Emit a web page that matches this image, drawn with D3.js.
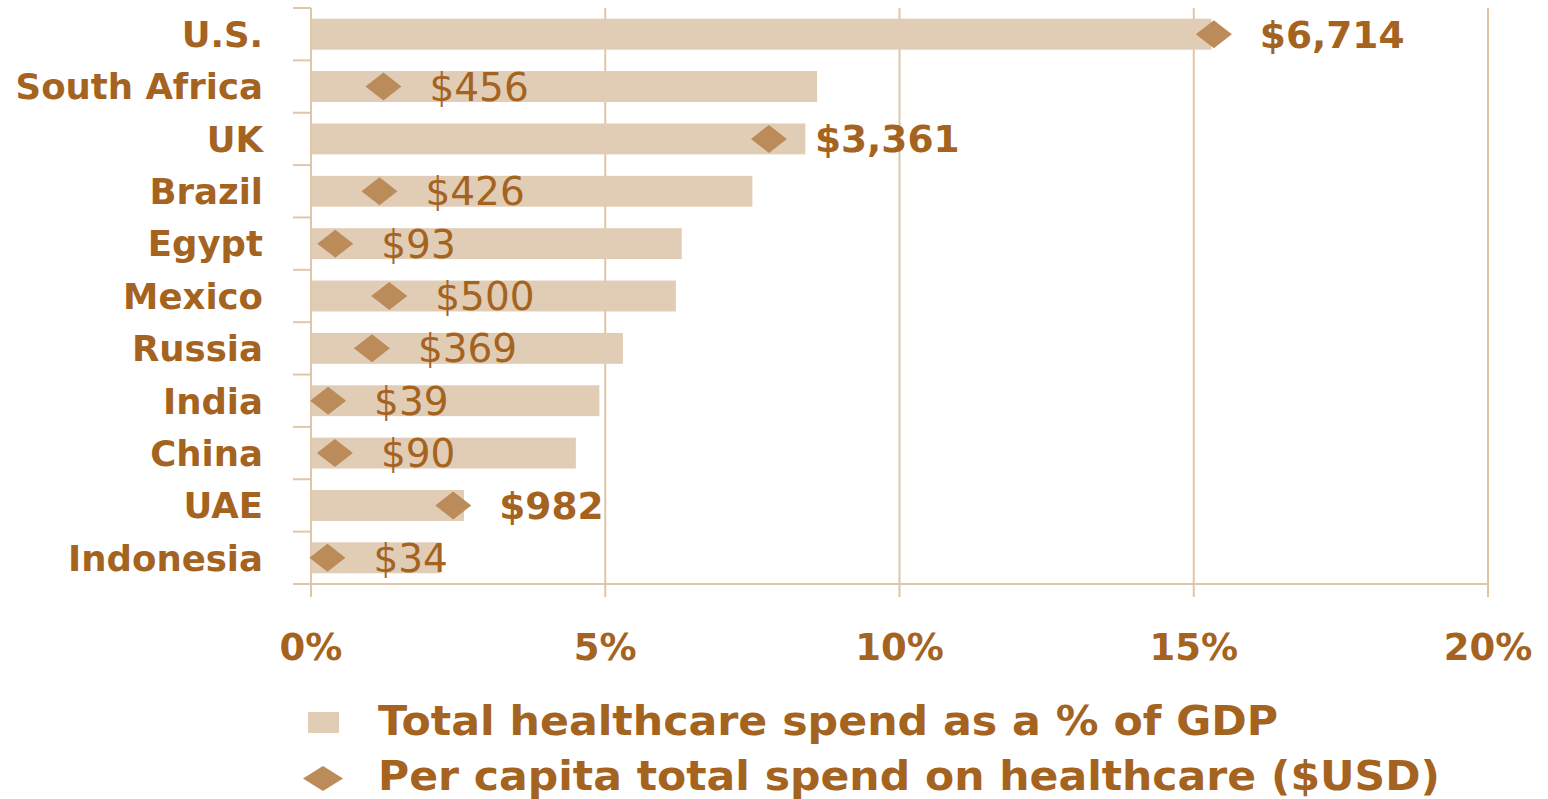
<!DOCTYPE html>
<html>
<head>
<meta charset="utf-8">
<script src="https://cdn.jsdelivr.net/npm/d3@7"></script>
<style>
  html, body { margin: 0; padding: 0; background: #ffffff; }
  svg { display: block; }
</style>
</head>
<body>
<svg id="chart" width="1548" height="799"></svg>
<script>
// ---- data ----
const countries = ["U.S.", "South Africa", "UK", "Brazil", "Egypt", "Mexico", "Russia", "India", "China", "UAE", "Indonesia"];
const gdpShare = [15.3, 8.6, 8.4, 7.5, 6.3, 6.2, 5.3, 4.9, 4.5, 2.6, 2.2];      // % of GDP
const perCapita = [6714, 456, 3361, 426, 93, 500, 369, 39, 90, 982, 34];        // $USD
const perCapitaLabels = ["$6,714", "$456", "$3,361", "$426", "$93", "$500", "$369", "$39", "$90", "$982", "$34"];
const labelOutside = [true, false, true, false, false, false, false, false, false, true, false];
const xTicks = [0, 5, 10, 15, 20];
const xTickLabels = ["0%", "5%", "10%", "15%", "20%"];
const legendLabels = ["Total healthcare spend as a % of GDP", "Per capita total spend on healthcare ($USD)"];

// ---- styles ----
const TEXT = "#A4631F";
const BAR = "#E1CCB5";
const DIAMOND = "#BC8B5A";
const GRID = "#E0C6A9";
const FONT = "'DejaVu Sans', Verdana, sans-serif";

const svg = d3.select("#chart");

const x = d3.scaleLinear().domain([0, 20]).range([311, 1488]);
// hidden secondary axis for per-capita spend
const x2 = d3.scaleLinear().domain([-90, 8780]).range([311, 1488]);
const y = d3.scaleBand().domain(countries).range([8, 584]).paddingInner(0.41).paddingOuter(0.205);

const step = y.step();
const y0 = y.range()[0];

// gridlines
svg.append("g").selectAll("line").data(xTicks).join("line")
  .attr("x1", d => x(d)).attr("x2", d => x(d))
  .attr("y1", 8).attr("y2", 597)
  .attr("stroke", GRID).attr("stroke-width", 2);

// horizontal axis line
svg.append("line").attr("x1", 293).attr("x2", x(20)).attr("y1", 584).attr("y2", 584)
  .attr("stroke", GRID).attr("stroke-width", 2);

// category boundary ticks
svg.append("g").selectAll("line").data(d3.range(countries.length + 1)).join("line")
  .attr("x1", 293).attr("x2", x(0))
  .attr("y1", i => y0 + i * step).attr("y2", i => y0 + i * step)
  .attr("stroke", GRID).attr("stroke-width", 2);

// bars
svg.append("g").selectAll("rect").data(countries).join("rect")
  .attr("x", x(0) + 1)
  .attr("y", d => y(d))
  .attr("width", (d, i) => x(gdpShare[i]) - x(0) - 1)
  .attr("height", y.bandwidth())
  .attr("fill", BAR);

// diamonds
const dw = 18, dh = 14;
svg.append("g").selectAll("path").data(countries).join("path")
  .attr("d", (d, i) => {
    const cx = x2(perCapita[i]), cy = y(d) + y.bandwidth() / 2;
    return `M${cx - dw},${cy} L${cx},${cy - dh} L${cx + dw},${cy} L${cx},${cy + dh} Z`;
  })
  .attr("fill", DIAMOND);

// value labels
svg.append("g").selectAll("text").data(countries).join("text")
  .attr("x", (d, i) => x2(perCapita[i]) + 46)
  .attr("y", d => y(d) + y.bandwidth() / 2)
  .attr("dy", "0.36em")
  .attr("font-family", FONT)
  .attr("font-size", (d, i) => labelOutside[i] ? 37.5 : 39)
  .attr("font-weight", (d, i) => labelOutside[i] ? "bold" : "normal")
  .attr("fill", TEXT)
  .text((d, i) => perCapitaLabels[i]);

// category labels
svg.append("g").selectAll("text").data(countries).join("text")
  .attr("x", 263)
  .attr("y", d => y(d) + y.bandwidth() / 2)
  .attr("dy", "0.36em")
  .attr("text-anchor", "end")
  .attr("font-family", FONT)
  .attr("font-size", 35.5)
  .attr("font-weight", "bold")
  .attr("fill", TEXT)
  .text(d => d);

// x tick labels
svg.append("g").selectAll("text").data(xTicks).join("text")
  .attr("x", d => x(d))
  .attr("y", 660)
  .attr("text-anchor", "middle")
  .attr("font-family", FONT)
  .attr("font-size", 37)
  .attr("font-weight", "bold")
  .attr("fill", TEXT)
  .text((d, i) => xTickLabels[i]);

// legend
const leg = svg.append("g");
leg.append("rect").attr("x", 308).attr("y", 712).attr("width", 31).attr("height", 21).attr("fill", BAR);
leg.append("path").attr("d", "M303,778.5 L323,766 L343,778.5 L323,791 Z").attr("fill", DIAMOND);
leg.append("text").attr("x", 378).attr("y", 735)
  .attr("font-family", FONT).attr("font-size", 40).attr("font-weight", "bold").attr("fill", TEXT)
  .attr("textLength", 900).attr("lengthAdjust", "spacingAndGlyphs")
  .text(legendLabels[0]);
leg.append("text").attr("x", 378).attr("y", 790)
  .attr("font-family", FONT).attr("font-size", 40).attr("font-weight", "bold").attr("fill", TEXT)
  .attr("textLength", 1062).attr("lengthAdjust", "spacingAndGlyphs")
  .text(legendLabels[1]);
</script>
</body>
</html>
